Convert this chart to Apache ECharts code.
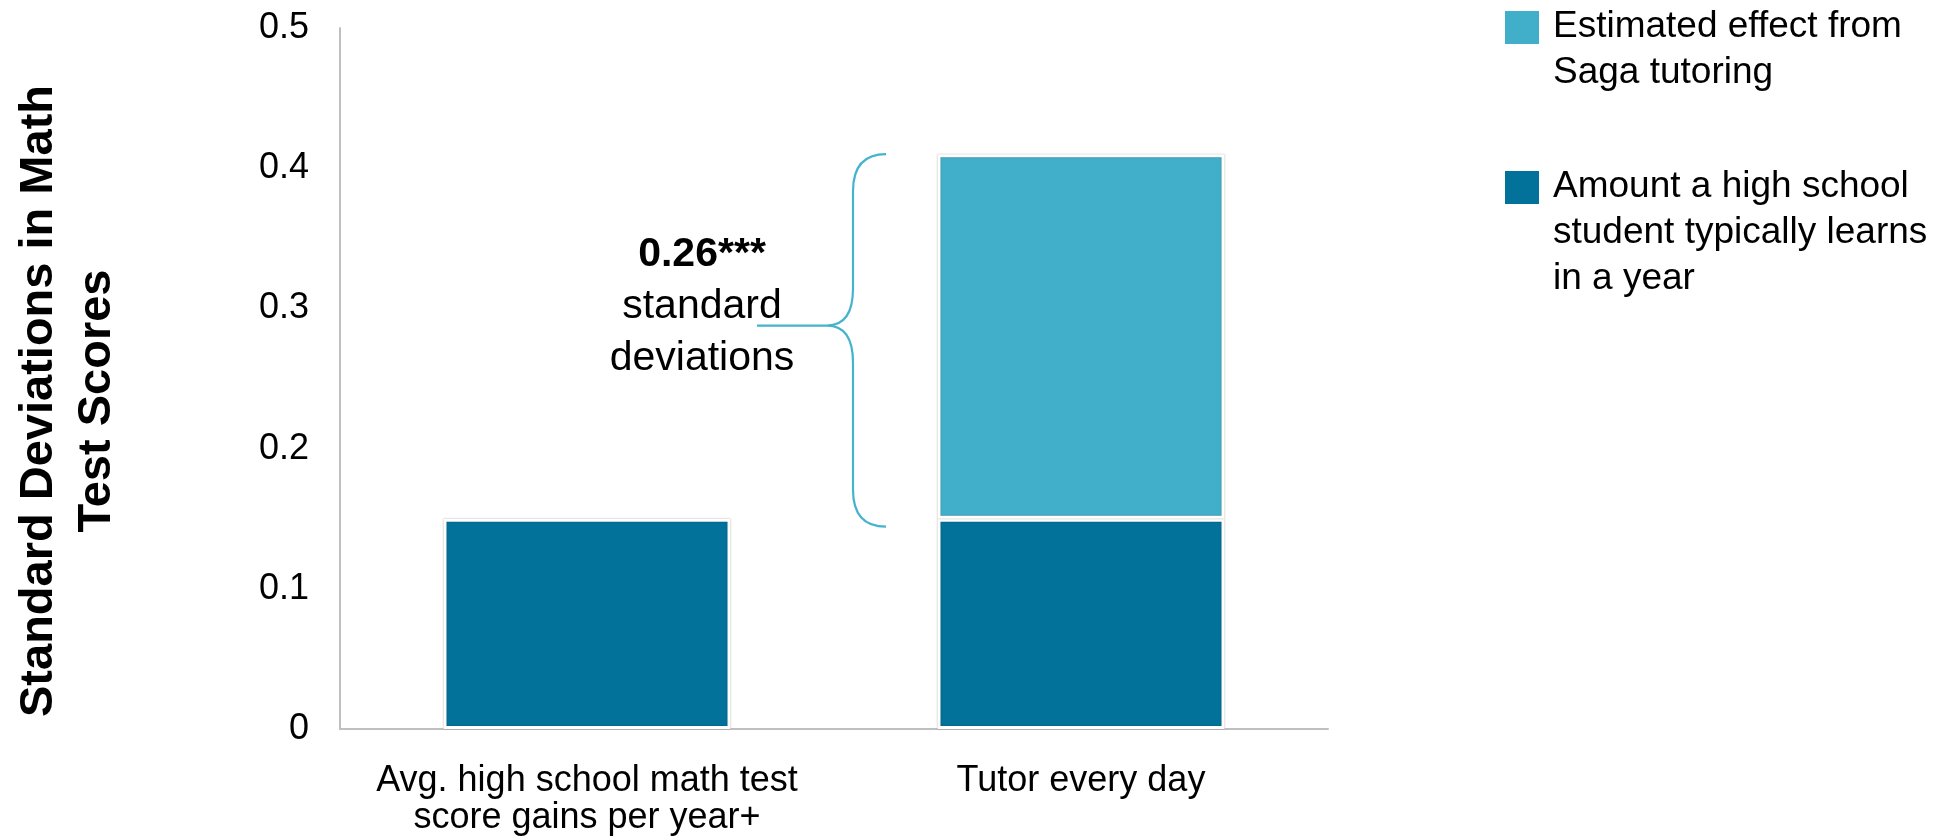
<!DOCTYPE html>
<html>
<head>
<meta charset="utf-8">
<script src="https://cdn.jsdelivr.net/npm/echarts@6/dist/echarts.min.js"></script>
<style>
  html, body { margin: 0; padding: 0; background: #ffffff; }
  #chart { width: 1938px; height: 837px; }
</style>
</head>
<body>
<div id="chart"></div>
<script>
// Categories along the x axis
const categories = ['Avg. high school math test\nscore gains per year+', 'Tutor every day'];
// Typical yearly learning gain (dark segment)
const yearlyGain = [0.15, 0.15];
// Estimated tutoring effect stacked on top (light segment)
const tutoringEffect = ['-', 0.26];
// Series names shown in the legend
const seriesNames = ['Amount a high school\nstudent typically learns\nin a year', 'Estimated effect from\nSaga tutoring'];
// Y axis range / ticks
const yMin = 0;
const yMax = 0.5;
const yStep = 0.1;
const yTitle = 'Standard Deviations in Math\nTest Scores';
const significance = '***';

const FONT = '"Liberation Sans", Arial, Helvetica, sans-serif';
const DARK = '#02729a';
const LIGHT = '#41afc9';
const BRACE = '#45b3cc';

const chart = echarts.init(document.getElementById('chart'), null, { renderer: 'canvas' });

const barStyle = (color) => ({
  color: color,
  borderColor: '#ffffff',
  borderWidth: 3,
  shadowBlur: 1.5,
  shadowColor: 'rgba(0,0,0,0.35)'
});

// Brace + annotation next to the tutoring bar, placed through the axis scales
const effectIdx = 1;
const braceData = [[effectIdx, yearlyGain[effectIdx], yearlyGain[effectIdx] + tutoringEffect[effectIdx], tutoringEffect[effectIdx]]];

function renderBrace(params, api) {
  const cat = api.value(0);
  const top = api.coord([cat, api.value(2)]);
  const base = api.coord([cat, api.value(1)]);
  const cx = top[0];
  const yt = top[1];
  const yb = base[1] + 8;
  const ym = yt + (yb - yt) * 0.46;   // brace tip, slightly above centre
  const xe = cx - 195;   // brace ends
  const xv = cx - 228;   // vertical strokes
  const xt = cx - 254;   // tip
  const xl = cx - 324;   // leader line end
  const r = 37;
  const d = [
    'M', xe, yt,
    'Q', xv, yt, xv, yt + r,
    'L', xv, ym - r,
    'Q', xv, ym, xt, ym,
    'L', xl, ym,
    'M', xt, ym,
    'Q', xv, ym, xv, ym + r,
    'L', xv, yb - r,
    'Q', xv, yb, xe, yb
  ].join(' ');
  const effect = api.value(3);
  return {
    type: 'group',
    children: [
      {
        type: 'path',
        shape: { pathData: d, x: xl, y: yt, width: xe - xl, height: yb - yt, layout: 'cover' },
        style: { stroke: BRACE, lineWidth: 2.2, fill: null }
      },
      {
        type: 'text',
        x: cx - 379,
        y: ym - 19,
        style: {
          text: '{b|' + effect.toFixed(2) + significance + '}\n{n|standard}\n{n|deviations}',
          align: 'center',
          verticalAlign: 'middle',
          fill: '#000',
          rich: {
            b: { fontFamily: FONT, fontSize: 41, fontWeight: 'bold', lineHeight: 52, fill: '#000', align: 'center' },
            n: { fontFamily: FONT, fontSize: 41, lineHeight: 52, fill: '#000', align: 'center' }
          }
        }
      }
    ]
  };
}

// Legend drawn as swatch + wrapped text blocks
const legendItems = [
  { name: seriesNames[1], color: LIGHT, top: 0 },
  { name: seriesNames[0], color: DARK, top: 160 }
];
const legendGraphics = [];
legendItems.forEach((it) => {
  legendGraphics.push({
    type: 'rect',
    left: 1505,
    top: it.top + 11,
    shape: { width: 34, height: 33 },
    style: { fill: it.color }
  });
  legendGraphics.push({
    type: 'text',
    left: 1553,
    top: it.top + 4,
    style: {
      text: it.name,
      font: '37px ' + FONT,
      lineHeight: 46,
      fill: '#000'
    }
  });
});

const option = {
  backgroundColor: '#ffffff',
  animation: false,
  grid: { left: 340, right: 610, top: 28, bottom: 106, containLabel: false },
  xAxis: {
    type: 'category',
    data: categories,
    axisLine: { show: true, lineStyle: { color: '#bfbfbf', width: 2 } },
    axisTick: { show: false },
    axisLabel: {
      interval: 0,
      margin: 34,
      color: '#000',
      fontFamily: FONT,
      fontSize: 36,
      lineHeight: 37
    },
    splitLine: { show: false }
  },
  yAxis: {
    type: 'value',
    min: yMin,
    max: yMax,
    interval: yStep,
    axisLine: { show: true, lineStyle: { color: '#bfbfbf', width: 2 } },
    axisTick: { show: false },
    splitLine: { show: false },
    axisLabel: {
      margin: 31,
      color: '#000',
      fontFamily: FONT,
      fontSize: 36,
      formatter: (v) => String(+v.toFixed(1))
    }
  },
  graphic: [
    {
      type: 'text',
      x: 68,
      y: 401,
      rotation: Math.PI / 2,
      style: {
        text: yTitle,
        font: 'bold 47px ' + FONT,
        lineHeight: 58,
        align: 'center',
        verticalAlign: 'middle',
        fill: '#000'
      }
    }
  ].concat(legendGraphics),
  series: [
    {
      name: seriesNames[0],
      type: 'bar',
      stack: 'total',
      barWidth: 287,
      data: yearlyGain,
      itemStyle: barStyle(DARK)
    },
    {
      name: seriesNames[1],
      type: 'bar',
      stack: 'total',
      barWidth: 287,
      data: tutoringEffect,
      itemStyle: barStyle(LIGHT)
    },
    {
      type: 'custom',
      coordinateSystem: 'cartesian2d',
      silent: true,
      z: 5,
      encode: { x: 0, y: [1, 2] },
      data: braceData,
      renderItem: renderBrace
    }
  ]
};

chart.setOption(option);
</script>
</body>
</html>
